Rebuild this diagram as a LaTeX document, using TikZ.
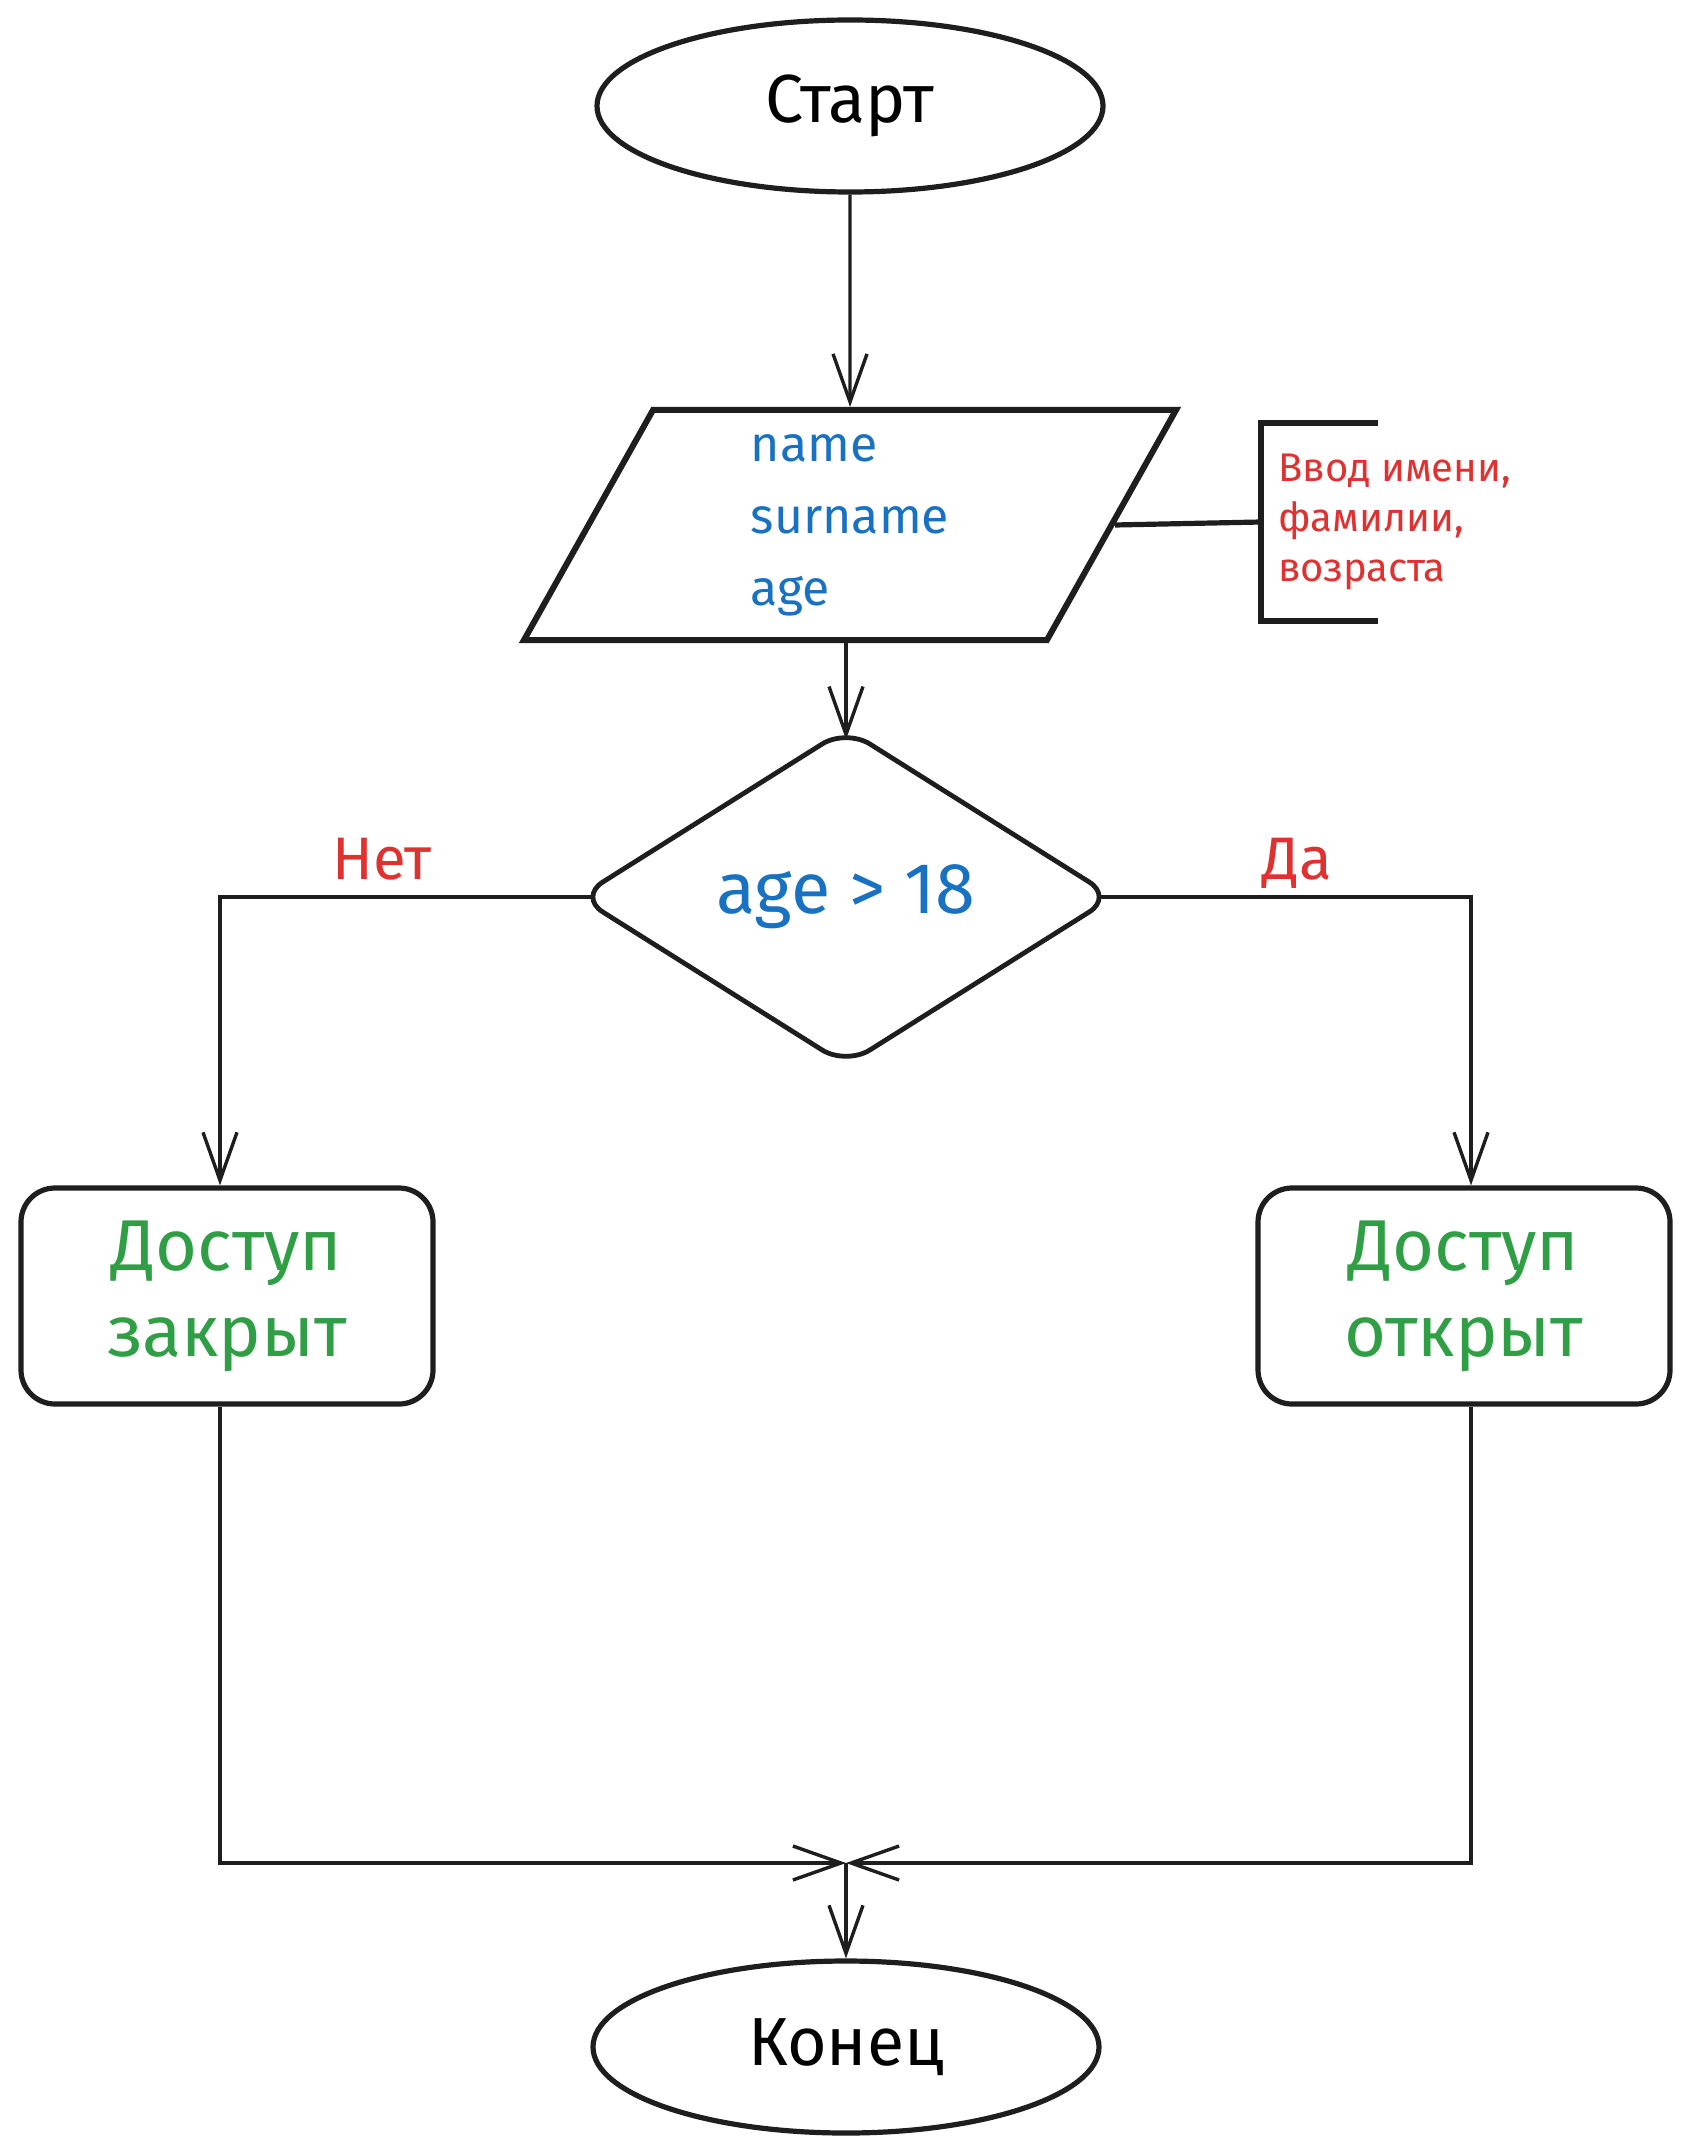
\documentclass[tikz,border=0pt]{standalone}
\usepackage{fontspec}
\setmainfont{Fira Sans}
\usetikzlibrary{shapes.geometric,arrows.meta}
\definecolor{ink}{HTML}{1E1E1E}
\definecolor{txtblue}{HTML}{1971C2}
\definecolor{txtred}{HTML}{E03131}
\definecolor{txtgreen}{HTML}{2F9E44}

\tikzset{
        terminal/.style = {ellipse, draw=ink, line width=2.6pt, minimum width=253pt, minimum height=86pt, font=\fontsize{34}{40}\selectfont},
        io/.style = {trapezium, trapezium left angle=56.5, trapezium right angle=123.5, trapezium stretches body, draw=ink, line width=3pt, minimum width=326pt, minimum height=115pt, text=txtblue, align=left, font=\fontsize{25}{36}\selectfont},
        decision/.style = {diamond, aspect=1.6, draw=ink, line width=2.4pt, rounded corners=14pt, minimum width=268pt, minimum height=169pt, inner sep=0pt, text=txtblue, font=\fontsize{36}{40}\selectfont},
        action/.style = {rectangle, rounded corners=17pt, draw=ink, line width=2.6pt, minimum width=206pt, minimum height=108pt, text=txtgreen, align=center, font=\fontsize{36}{43}\selectfont},
        note/.style = {align=left, inner xsep=8.5pt, text=txtred, font=\fontsize{20}{25}\selectfont},
        answer/.style = {text=txtred, font=\fontsize{30}{36}\selectfont},
        link/.style = {draw=ink, line width=1.7pt},
        arr/.style = {link, -{Straight Barb[length=24pt,width=17pt]}},
        bracket/.style = {draw=ink, line width=2.6pt}
    }

\begin{document}
\begin{tikzpicture}[x=0.5pt,y=-0.5pt]
            \useasboundingbox (0,0) rectangle (1690,2155);

            \node[terminal] (start) at (850,106) {Старт};
            \node[io] (input) at (850,525) {name\\surname\\age};
            \node[note,anchor=west] (note) at (1261,522) {Ввод имени,\\фамилии,\\возраста};
            \node[decision] (cond) at (846,897) {age > 18};
            \node[action] (deny) at (227,1296) {Доступ\\закрыт};
            \node[action] (allow) at (1464,1296) {Доступ\\открыт};
            \node[terminal] (stop) at (846,2047) {Конец};
            \coordinate (merge) at (846,1863);

            \node[answer,anchor=base] (no) at (382,879) {Нет};
            \node[answer,anchor=base] (yes) at (1297,879) {Да};

            \draw[arr] (start) -- (input);
            \draw[arr] (cond.north |- input.south) -- ([yshift=-7pt]cond.north);
            \draw[bracket] (input.east) -- (note.west);
            \draw[bracket] ([xshift=58.5pt,yshift=49.5pt]note.west) -| ([yshift=-49.5pt]note.west) -- ++(58.5pt,0);

            \draw[arr] ([xshift=8pt]cond.west) -| ([xshift=-3.5pt]deny.north);
            \draw[arr] ([xshift=-8pt]cond.east) -| ([xshift=3.5pt]allow.north);
            \draw[arr] ([xshift=-3.5pt]deny.south) |- (merge);
            \draw[arr] ([xshift=3.5pt]allow.south) |- (merge);
            \draw[arr] (merge) -- (stop);
        \end{tikzpicture}
\end{document}
